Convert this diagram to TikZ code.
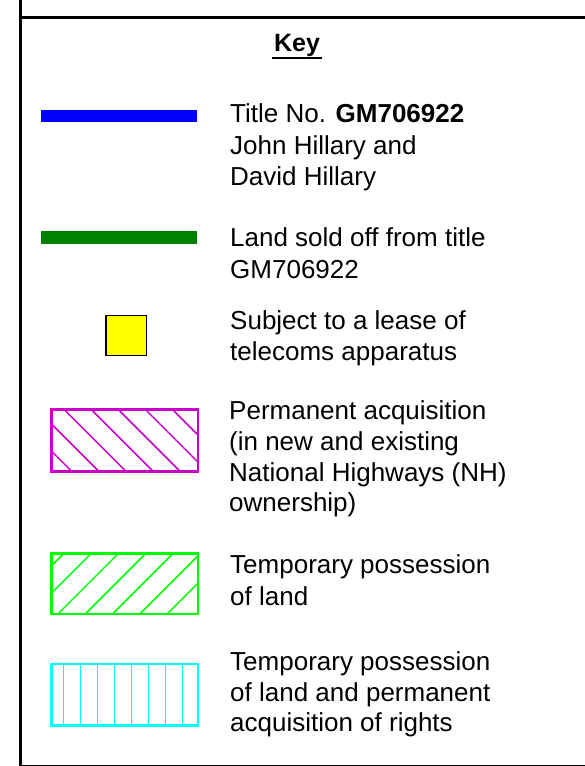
\documentclass[tikz,border=0pt]{standalone}
\usepackage{fontspec}
\setmainfont{Liberation Sans}
\definecolor{keyblue}{RGB}{0,0,255}
\definecolor{keygreen}{RGB}{0,128,0}
\definecolor{keyyellow}{RGB}{255,255,0}
\definecolor{keymagenta}{RGB}{200,0,200}
\definecolor{keylime}{RGB}{0,255,0}
\definecolor{keycyan}{RGB}{0,255,255}
\begin{document}
\begin{tikzpicture}[x=1pt,y=-1pt,
  frameline/.style={line width=3pt,black},
  keytext/.style={anchor=base west,inner sep=0pt,font=\fontsize{26}{31.7}\selectfont},
  swatch/.style={line width=2.7pt},
  hatch/.style={line width=1.5pt}]
\useasboundingbox (0,0) rectangle (585,766);
\fill[white] (0,0) rectangle (585,766);
% frame
\draw[frameline] (20.5,0) -- (20.5,766);
\draw[frameline] (20.5,17) -- (585,17);
\draw[frameline] (20.5,766) -- (585,766);
% title
\node[anchor=base,inner sep=0pt,font=\fontsize{25}{30}\selectfont\bfseries] (key) at (297,51.7) {Key};
\draw[line width=1.7pt] (272.3,58.2) -- (321.7,58.2);
% blue bar
\fill[keyblue] (41,110) rectangle (197,122.3);
\node[keytext] (t1) at (230,122.3) {Title No. \textbf{GM706922}};
\node[keytext] (t2) at (230,154.3) {John Hillary and};
\node[keytext] (t3) at (230,185.8) {David Hillary};
% green bar
\fill[keygreen] (41,231.3) rectangle (197,243.7);
\node[keytext] (l1) at (230,246.7) {Land sold off from title};
\node[keytext] (l2) at (230,278.3) {GM706922};
% yellow square
\draw[fill=keyyellow,line width=1.3pt] (106,315.3) rectangle (146.3,355.7);
\node[keytext] (s1) at (230,329) {Subject to a lease of};
\node[keytext] (s2) at (230,360.7) {telecoms apparatus};
% magenta hatched
\begin{scope}
\clip (51.3,409.7) rectangle (198,471.3);
\foreach \k in {0,...,6} {
  \pgfmathsetmacro{\c}{-237-27.1*\k}
  \draw[hatch,keymagenta] ({400+\c},400) -- ({480+\c},480);
}
\end{scope}
\draw[swatch,keymagenta] (51.3,409.7) rectangle (198,471.3);
\node[keytext] (p1) at (229,419) {Permanent acquisition};
\node[keytext] (p2) at (229,450) {(in new and existing};
\node[keytext] (p3) at (229,481) {National Highways (NH)};
\node[keytext] (p4) at (229,511.7) {ownership)};
% green hatched
\begin{scope}
\clip (51.3,553.3) rectangle (198,614);
\foreach \k in {0,...,6} {
  \pgfmathsetmacro{\c}{617.3+27.3*\k}
  \draw[hatch,keylime] ({\c-540},540) -- ({\c-630},630);
}
\end{scope}
\draw[swatch,keylime] (51.3,553.3) rectangle (198,614);
\node[keytext] (g1) at (230,573.3) {Temporary possession};
\node[keytext] (g2) at (230,605) {of land};
% cyan hatched
\foreach \k in {0,...,7} {
  \draw[hatch,keycyan] ({63.3+17*\k},664) -- ({63.3+17*\k},725.3);
}
\draw[swatch,keycyan] (51.3,664) rectangle (198,725.3);
\node[keytext] (c1) at (230,670) {Temporary possession};
\node[keytext] (c2) at (230,701.7) {of land and permanent};
\node[keytext] (c3) at (230,731.7) {acquisition of rights};
\end{tikzpicture}
\end{document}
